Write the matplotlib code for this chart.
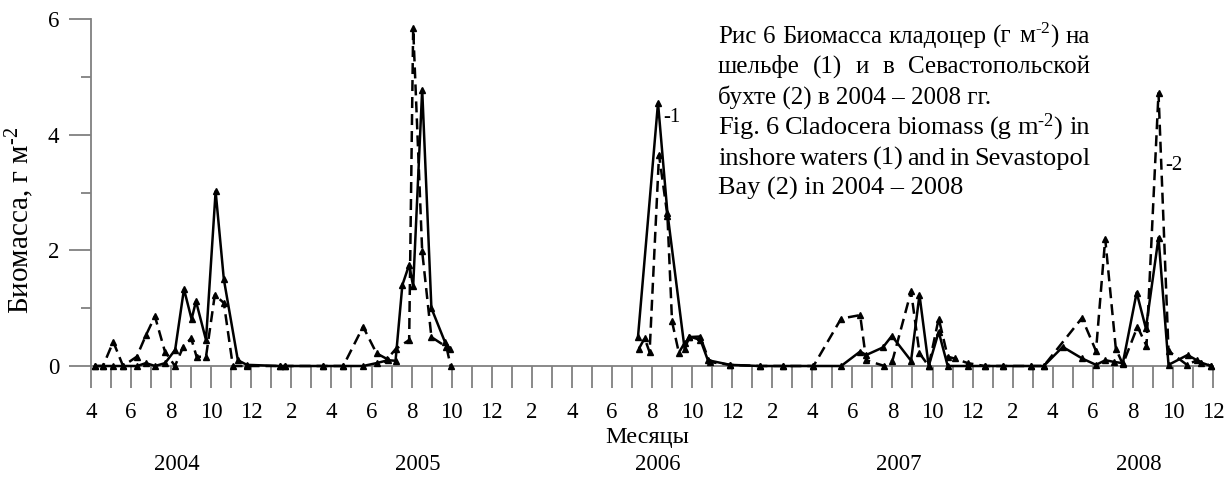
import numpy as np
import matplotlib
matplotlib.use('Agg')
import matplotlib.pyplot as plt
from matplotlib.ticker import FixedLocator, FuncFormatter

plt.rcParams['font.family'] = ['Liberation Serif', 'DejaVu Serif']
plt.rcParams['mathtext.fontset'] = 'custom'
plt.rcParams['mathtext.rm'] = 'Liberation Serif'
plt.rcParams['mathtext.it'] = 'Liberation Serif:italic'
plt.rcParams['mathtext.bf'] = 'Liberation Serif:bold'

# ---- data: x = month counted from Jan 2004 (=1); NaN = gap in sampling ----
x_shelf = [4.2, 4.6, 5.1, 5.6, 6.3, 6.74, 7.2, 7.7, 8.2, 8.64, 9.02, 9.24, 9.74, 10.22, 10.63,
           11.33, 11.78, 13.43, 13.68, 15.59, 16.59, 17.58, 18.25, 18.83, 19.2, 19.54, 19.88,
           20.08, 20.53, 20.99, 21.66, 21.92, np.nan,
           31.3, 32.3, 32.77, 33.63, 33.87, 34.42, 34.79, 35.9, 37.37, 38.53, 40.06, 41.44,
           42.39, 42.69, 43.52, 43.97, 44.93, 45.35, 45.81, 46.31, 46.76, 47.76, 48.6, 49.5,
           50.9, 51.55, 52.5, 53.47, 54.16, 54.63, 55.07, 55.5, 56.19, 56.65, 57.28, 57.78,
           58.73, 59.4, 59.9]
y_shelf = [0, 0, 0, 0, 0, 0.05, 0, 0.05, 0.28, 1.33, 0.81, 1.12, 0.45, 3.02, 1.5,
           0.1, 0.02, 0, 0, 0, 0, 0, 0.05, 0.1, 0.09, 1.4, 1.75,
           1.38, 4.78, 1.0, 0.42, 0.3, np.nan,
           0.5, 4.55, 2.65, 0.29, 0.51, 0.45, 0.1, 0.02, 0, 0, 0, 0,
           0.25, 0.19, 0.32, 0.52, 0.09, 1.23, 0, 0.59, 0, 0, 0, 0,
           0, 0, 0.33, 0.13, 0.02, 0.1, 0.07, 0.05, 1.27, 0.65, 2.22, 0.02,
           0.19, 0.06, 0]

x_bay = [4.2, 4.6, 5.11, 5.6, 6.28, 6.74, 7.19, 7.69, 8.19, 8.6, 9.0, 9.27, 9.74, 10.18, 10.63,
         11.08, 11.78, 13.43, 13.68, 15.59, 16.59, 17.58, 18.25, 18.78, 19.2, 19.88, 20.08,
         20.53, 20.99, 21.74, 21.95, np.nan,
         31.35, 31.63, 31.88, 32.35, 32.77, 33.0, 33.34, 33.63, 33.87, 34.4, 34.87, 35.9,
         37.37, 38.53, 40.06, 41.44, 42.39, 42.69, 43.6, 44.0, 44.93, 45.35, 45.81, 46.31,
         46.76, 47.1, 47.76, 48.6, 49.5, 50.9, 51.55, 53.46, 54.16, 54.62, 55.15, 55.5,
         56.23, 56.68, 57.28, 57.78, 58.7, 59.2, 59.9]
y_bay = [0, 0, 0.42, 0, 0.16, 0.53, 0.86, 0.25, 0, 0.33, 0.48, 0.16, 0.16, 1.23, 1.09,
         0, 0, 0, 0, 0, 0, 0.68, 0.22, 0.12, 0.29, 0.45, 5.84,
         1.98, 0.5, 0.33, 0, np.nan,
         0.3, 0.48, 0.24, 3.65, 2.6, 0.77, 0.23, 0.4, 0.5, 0.51, 0.07, 0.02,
         0, 0, 0, 0.82, 0.88, 0.1, 0, 0.09, 1.29, 0.22, 0, 0.82,
         0.16, 0.13, 0.05, 0, 0, 0, 0, 0.83, 0.26, 2.2, 0.3, 0.03,
         0.68, 0.35, 4.72, 0.26, 0.02, 0.1, 0]

years = ['2004', '2005', '2006', '2007', '2008']
year_pos = [8.3, 20.3, 32.3, 44.3, 56.3]

SUP = r"$^{\text{-2}}$"
title_lines = [
    ("Рис 6 Биомасса кладоцер (г м" + SUP + ") на", True, 18),
    ("шельфе (1) и в Севастопольской", True, 18),
    ("бухте (2) в 2004 – 2008 гг.", False, 18),
    ("Fig. 6 Cladocera biomass (g m" + SUP + ") in", True, 19),
    ("inshore waters (1) and in Sevastopol", True, 19),
    ("Bay (2) in 2004 – 2008", False, 19),
]

W, H = 1232, 478
fig = plt.figure(figsize=(W / 100, H / 100), dpi=100)
ax = fig.add_axes([91 / W, 1 - 366 / H, (1213 - 91) / W, (366 - 19) / H])

ax.plot(x_shelf, y_shelf, color='black', lw=1.8, marker='^', ms=4,
        clip_on=False, zorder=3)
ax.plot(x_bay, y_bay, color='black', lw=1.8, ls=(0, (4.4, 2.4)), marker='^', ms=4,
        clip_on=False, zorder=3)

ax.set_xlim(4, 60)
ax.set_ylim(0, 6)

gray = '#808080'
for s in ['top', 'right']:
    ax.spines[s].set_visible(False)
for s in ['left', 'bottom']:
    ax.spines[s].set_color(gray)
    ax.spines[s].set_linewidth(1.3)

ax.set_yticks([0, 2, 4, 6])
ax.set_yticklabels(['0', '2', '4', '6'])
ax.yaxis.set_minor_locator(FixedLocator([1, 3, 5]))
ax.tick_params(axis='y', which='major', length=16, width=1.3, color=gray,
               direction='out', labelsize=16.5, pad=7)
ax.tick_params(axis='y', which='minor', length=7.5, width=1.3, color=gray, direction='out')

months = list(range(4, 61))
ax.xaxis.set_major_locator(FixedLocator(months))


def mlabel(v, pos):
    t = int(round(v))
    if t % 2 == 0:
        return str((t - 1) % 12 + 1)
    return ''


ax.xaxis.set_major_formatter(FuncFormatter(mlabel))
ax.tick_params(axis='x', which='major', length=16, width=1.3, color=gray,
               direction='out', labelsize=16.5, pad=10)

# axis texts
fig.text(647 / W, 1 - 437 / H, 'Месяцы', ha='center', va='center', fontsize=17.5)
ytr = (366 - 465) / (366 - 19)
for yr, p in zip(years, year_pos):
    ax.text(p, ytr, yr, transform=ax.get_xaxis_transform(), ha='center', va='center',
            fontsize=16.5)

fig.text(20 / W, 1 - 220 / H, 'Биомасса, г м' + SUP, rotation=90, ha='center',
         va='center', fontsize=21)

# series labels
fig.text(663 / W, 1 - 122 / H, '-1', ha='left', va='baseline', fontsize=15)
fig.text(1165 / W, 1 - 170 / H, '-2', ha='left', va='baseline', fontsize=15)

# justified caption
x0, x1 = 718, 1090
base0, step = 43, 30.4
renderer = fig.canvas.get_renderer()
for i, (line, just, fsz) in enumerate(title_lines):
    yb = base0 + i * step
    if not just:
        fig.text(x0 / W, 1 - yb / H, line, ha='left', va='baseline', fontsize=fsz)
        continue
    words = line.split(' ')
    texts = [fig.text(0, 1 - yb / H, w, ha='left', va='baseline', fontsize=fsz) for w in words]
    widths = [t.get_window_extent(renderer).width for t in texts]
    gap = ((x1 - x0) - sum(widths)) / (len(words) - 1)
    x = x0
    for t, w in zip(texts, widths):
        t.set_position((x / W, 1 - yb / H))
        x += w + gap

fig.savefig('out.png', dpi=100)
